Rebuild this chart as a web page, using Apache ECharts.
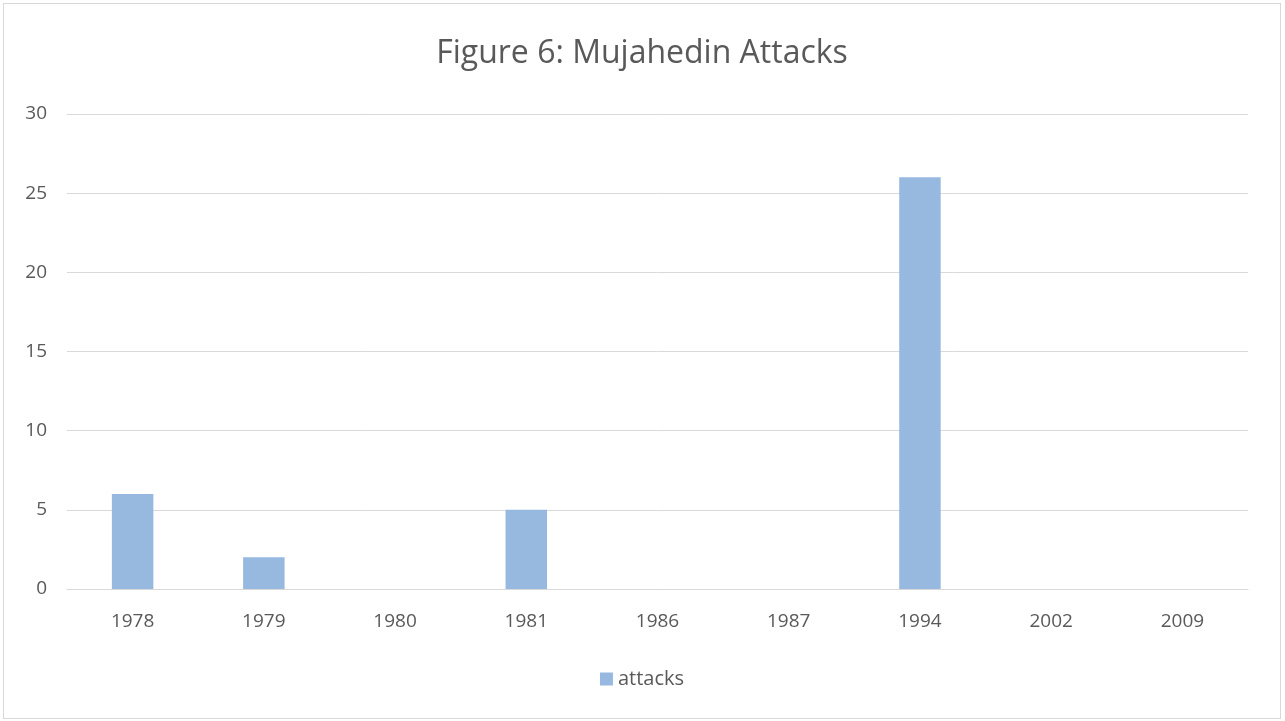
<!DOCTYPE html>
<html><head><meta charset="utf-8">
<style>html,body{margin:0;padding:0;background:#fff;}#c{position:absolute;left:3px;top:3px;width:1278px;height:716px;border:1px solid #d9d9d9;box-sizing:border-box;}</style>
<script src="https://cdn.jsdelivr.net/npm/echarts@6/dist/echarts.min.js"></script>
</head><body><div id="c"></div>
<script>
const categories = ['1978','1979','1980','1981','1986','1987','1994','2002','2009'];
const attacks = [6, 2, 0, 5, 0, 0, 26, 0, 0];
const yTicks = [0, 5, 10, 15, 20, 25, 30];

const chart = echarts.init(document.getElementById('c'), null, {renderer: 'canvas'});
const font = '"Open Sans", "Noto Sans", sans-serif';
chart.setOption({
  animation: false,
  title: {
    text: 'Figure 6: Mujahedin Attacks', left: 'center', top: 29,
    textStyle: {fontFamily: font, fontSize: 32, fontWeight: 'normal', color: '#595959'}
  },
  legend: {
    bottom: 24, left: 'center', itemWidth: 13, itemHeight: 13, itemGap: 6,
    icon: 'rect',
    textStyle: {fontFamily: font, fontSize: 20, color: '#595959'}
  },
  grid: {left: 63, right: 32, top: 110, bottom: 129},
  xAxis: {
    type: 'category', data: categories,
    axisLine: {lineStyle: {color: '#d9d9d9', width: 1}},
    axisTick: {show: false},
    axisLabel: {fontFamily: font, fontSize: 19, color: '#595959', margin: 23}
  },
  yAxis: {
    type: 'value', min: yTicks[0], max: yTicks[yTicks.length-1], interval: 5,
    axisLine: {show: false}, axisTick: {show: false},
    splitLine: {lineStyle: {color: '#d9d9d9', width: 1}},
    axisLabel: {fontFamily: font, fontSize: 19, color: '#595959', margin: 20}
  },
  series: [{
    name: 'attacks', type: 'bar', data: attacks, barWidth: '31.6%',
    itemStyle: {color: '#97b9e0'}
  }]
});
</script></body></html>
